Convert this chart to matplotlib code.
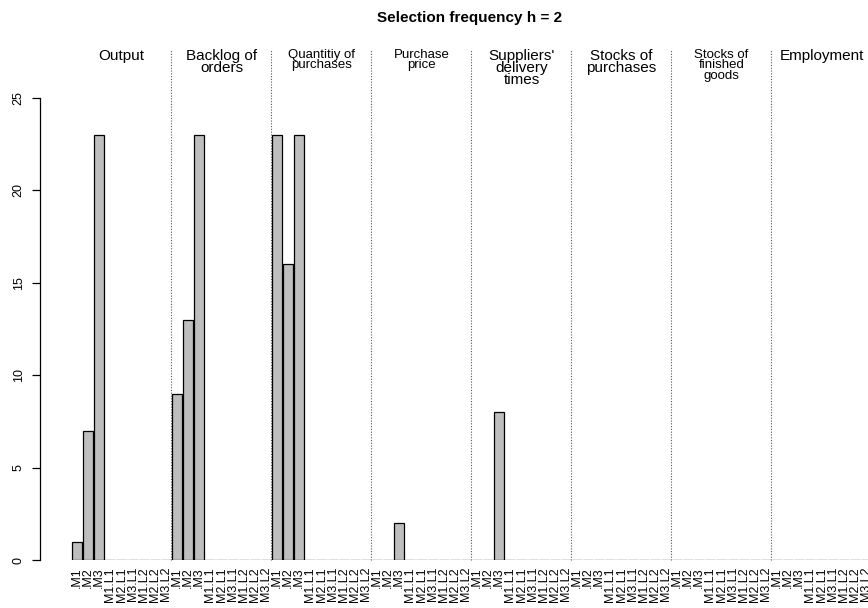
import matplotlib
matplotlib.use("Agg")
import matplotlib.pyplot as plt
import numpy as np

plt.rcParams['font.family'] = ['Liberation Sans', 'DejaVu Sans']

# ---- data ----
groups = ["Output", "Backlog of\norders", "Quantitiy of\npurchases", "Purchase\nprice",
          "Suppliers'\ndelivery\ntimes", "Stocks of\npurchases", "Stocks of\nfinished\ngoods",
          "Employment"]
bar_labels = [".M1", ".M2", ".M3", "M1.L1", "M2.L1", "M3.L1", "M1.L2", "M2.L2", "M3.L2"]

output = [1, 7, 23, 0, 0, 0, 0, 0, 0]
backlog = [9, 13, 23, 0, 0, 0, 0, 0, 0]
quantity = [23, 16, 23, 0, 0, 0, 0, 0, 0]
purchase_price = [0, 0, 2, 0, 0, 0, 0, 0, 0]
suppliers = [0, 0, 8, 0, 0, 0, 0, 0, 0]
stocks_purchases = [0, 0, 0, 0, 0, 0, 0, 0, 0]
stocks_finished = [0, 0, 0, 0, 0, 0, 0, 0, 0]
employment = [0, 0, 0, 0, 0, 0, 0, 0, 0]

yticks = [0, 5, 10, 15, 20, 25]
title = "Selection frequency h = 2"

# ---- styling ----
group_fontsizes = [11, 11, 9.5, 9.5, 11, 11, 9.5, 11]

W, H = 868, 608
fig = plt.figure(figsize=(W / 100, H / 100), dpi=100)
ax = fig.add_axes([40 / W, (H - 560) / H, (W - 40) / W, (560 - 45) / H])

values = np.concatenate([output, backlog, quantity, purchase_price, suppliers,
                         stocks_purchases, stocks_finished, employment])
labels = bar_labels * len(groups)
n = len(values)
space = 0.1
centers = space + 0.5 + (1 + space) * np.arange(n)

ax.bar(centers, values, width=1.0, color="#BEBEBE", edgecolor="black", linewidth=0.9)

ax.set_xlim(-3.07, 78.9)
ax.set_ylim(0, 27.87)

ngroup = len(bar_labels)
gw = ngroup * (1 + space)
for k in range(1, len(groups)):
    ax.plot([k * gw, k * gw], [0, 27.6], color="#555555", linestyle=(0, (1, 1.5)),
            linewidth=0.8, clip_on=False)

for k, (g, fs) in enumerate(zip(groups, group_fontsizes)):
    ax.text(k * gw + gw / 2 + 0.05, 27.65, g, ha="center", va="top", fontsize=fs,
            linespacing=0.82, clip_on=False)

ax.set_xticks(centers)
ax.set_xticklabels(labels, rotation=90, fontsize=9, va="top")
ax.tick_params(axis="x", length=0, pad=5)

ax.set_yticks(yticks)
ax.set_yticklabels([str(t) for t in yticks], rotation=90, va="center", fontsize=9)
ax.tick_params(axis="y", length=6, width=0.9, pad=5)

for s in ["top", "right", "bottom"]:
    ax.spines[s].set_visible(False)
ax.spines["left"].set_bounds(0, 25)
ax.spines["left"].set_linewidth(0.9)

fig.text(470 / W, 1 - 18 / H, title, ha="center", va="center", fontsize=11, fontweight="bold")

fig.savefig("out.png", dpi=100)
